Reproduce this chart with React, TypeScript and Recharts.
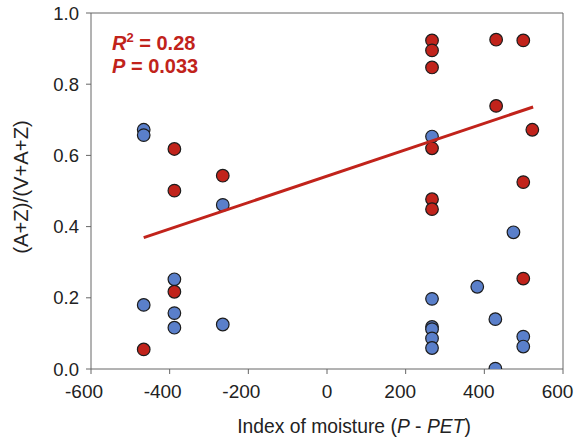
import React from 'react';
import { ScatterChart, Scatter, XAxis, YAxis, ReferenceLine } from 'recharts';

// Blue group
const blueX = [-466, -466, -265, -388, -466, -388, -388, -265, 474, 382, 267, 267, 428, 267, 267, 267, 267, 499, 499, 428];
const blueY = [0.672, 0.657, 0.461, 0.252, 0.18, 0.157, 0.116, 0.125, 0.384, 0.231, 0.653, 0.197, 0.14, 0.118, 0.112, 0.086, 0.059, 0.091, 0.063, 0.001];

// Red group
const redX = [-388, -388, -265, -388, -466, 267, 267, 267, 430, 499, 430, 522, 267, 499, 267, 267, 499];
const redY = [0.618, 0.501, 0.543, 0.217, 0.055, 0.923, 0.895, 0.847, 0.925, 0.923, 0.739, 0.672, 0.62, 0.525, 0.477, 0.449, 0.254];

// Regression line end points
const fitX = [-466, 524];
const fitY = [0.369, 0.736];

const xTicks = [-600, -400, -200, 0, 200, 400, 600];
const yTicks = [0, 0.2, 0.4, 0.6, 0.8, 1.0];

const RED = '#c1231b';
const BLUE = '#5a7fca';
const AXIS = '#666';
const FONT = "Arial, 'Liberation Sans', sans-serif";

const toPoints = (xs: number[], ys: number[]) => xs.map((x, i) => ({ x, y: ys[i] }));

const blue = toPoints(blueX, blueY);
const red = toPoints(redX, redY);
const fit = toPoints(fitX, fitY);

function dot(fill: string) {
  return (p: any) => (
    <circle cx={p.cx} cy={p.cy} r={6.3} fill={fill} stroke="#1c1c1c" strokeWidth={1.2} />
  );
}

// labels in the original sit a little left of their ticks
function XTick(props: any) {
  const { x, y, payload } = props;
  const v = payload.value as number;
  const dx = v < 0 ? -7 : v > 0 ? -5.5 : 0;
  return (
    <text x={x + dx} y={y} dy="0.71em" textAnchor="middle" fontSize={19} fill="#222" fontFamily={FONT}>
      {v}
    </text>
  );
}

export default function App() {
  return (
    <div style={{ position: 'absolute', left: 0, top: 0, width: 575, height: 441, background: '#fff', fontFamily: FONT }}>
      <ScatterChart width={575} height={441} margin={{ top: 13, right: 12, bottom: 42, left: 31 }}>
        <XAxis
          type="number"
          dataKey="x"
          domain={[-600, 600]}
          ticks={xTicks}
          height={30}
          tickSize={5}
          tickMargin={11}
          stroke={AXIS}
          tick={<XTick />}
          interval={0}
          allowDataOverflow
        />
        <YAxis
          type="number"
          dataKey="y"
          domain={[0, 1]}
          ticks={yTicks}
          width={60}
          tickSize={5}
          tickMargin={7}
          stroke={AXIS}
          tickFormatter={(v: number) => v.toFixed(1)}
          tick={{ fontSize: 18.5, fill: '#222', fontFamily: FONT }}
          allowDataOverflow
        />
        <ReferenceLine y={1} stroke={AXIS} strokeWidth={1} />
        <ReferenceLine x={600} stroke={AXIS} strokeWidth={1} />
        <Scatter data={blue} shape={dot(BLUE)} isAnimationActive={false} />
        <Scatter data={red} shape={dot(RED)} isAnimationActive={false} />
        <Scatter
          data={fit}
          line={{ stroke: RED, strokeWidth: 3 }}
          shape={() => <g />}
          isAnimationActive={false}
        />
      </ScatterChart>
      <svg width={575} height={441} style={{ position: 'absolute', left: 0, top: 0, pointerEvents: 'none' }}>
        <text x={112} y={50} fill={RED} fontSize={20} fontWeight="bold" fontFamily={FONT}>
          <tspan fontStyle="italic">R</tspan>
          <tspan fontSize={13} dy={-8}>2</tspan>
          <tspan dy={8}> = 0.28</tspan>
        </text>
        <text x={112} y={73} fill={RED} fontSize={20} fontWeight="bold" fontFamily={FONT}>
          <tspan fontStyle="italic">P</tspan>
          <tspan> = 0.033</tspan>
        </text>
        <text x={354} y={433} fill="#222" fontSize={19.3} textAnchor="middle" fontFamily={FONT}>
          Index of moisture (<tspan fontStyle="italic">P</tspan> - <tspan fontStyle="italic">PET</tspan>)
        </text>
        <text
          x={28}
          y={187}
          fill="#222"
          fontSize={20.3}
          textAnchor="middle"
          fontFamily={FONT}
          transform="rotate(-90 28 187)"
        >
          (A+Z)/(V+A+Z)
        </text>
      </svg>
    </div>
  );
}
